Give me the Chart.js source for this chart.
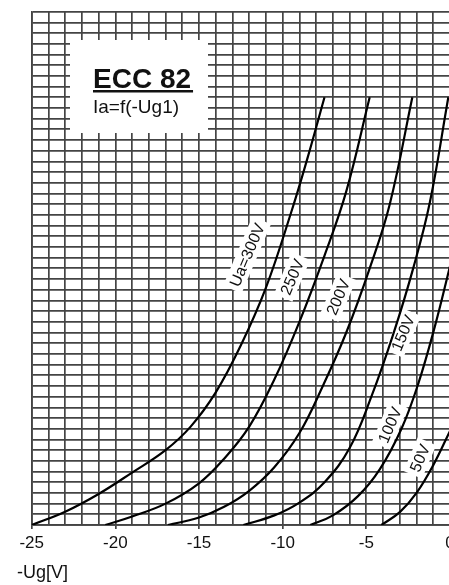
<!DOCTYPE html>
<html>
<head>
<meta charset="utf-8">
<script src="https://cdn.jsdelivr.net/npm/chart.js@4.4.0/dist/chart.umd.min.js"></script>
<style>
  html, body { margin: 0; padding: 0; background: #fff; }
  #wrap { position: relative; width: 449px; height: 585px; overflow: hidden; }
  canvas { display: block; }
</style>
</head>
<body>
<div id="wrap"><canvas id="c" width="470" height="585"></canvas></div>
<script>
// -Ug1 [V] / Ia [mA], one pair of arrays per anode voltage
const UG_300 = [-25, -23, -21, -19, -17, -15.5, -14, -12.5, -11, -9.5, -8.5, -7.5];
const IA_300 = [0, 0.62, 1.45, 2.45, 3.5, 4.6, 6.2, 8.4, 11.1, 14.6, 17.2, 20];
const UG_250 = [-20.6, -19, -17, -15, -13.5, -12, -10.5, -9, -7.5, -6.2, -4.8];
const IA_250 = [0, 0.4, 1.0, 1.95, 3.1, 4.6, 6.8, 9.5, 12.6, 15.6, 20];
const UG_200 = [-16.85, -15, -13.5, -12, -10.5, -9, -7.6, -6.2, -4.8, -3.6, -2.25];
const IA_200 = [0, 0.35, 0.85, 1.6, 2.7, 4.3, 6.5, 9.0, 12.0, 15.0, 20];
const UG_150 = [-12.35, -10.5, -9, -7.5, -6, -4.7, -3.4, -2.2, -1.2, -0.1];
const IA_150 = [0, 0.45, 1.05, 2.0, 3.6, 6.0, 8.9, 12.0, 15.1, 20];
const UG_100 = [-8.35, -7, -5.5, -4.2, -2.9, -1.9, -0.9, 0];
const IA_100 = [0, 0.45, 1.35, 2.6, 4.5, 6.6, 9.3, 12.1];
const UG_50  = [-4.1, -3, -2, -1, 0];
const IA_50  = [0, 0.6, 1.5, 2.8, 4.4];

const X_TICKS = [-25, -20, -15, -10, -5, 0];
const CURVE_LABELS = ['Ua=300V', '250V', '200V', '150V', '100V', '50V'];
// label anchors in data units (Ug, Ia)
const LABEL_UG = [-12.13, -9.44, -6.69, -2.81, -3.59, -1.80];
const LABEL_IA = [12.63, 11.6, 10.66, 8.98, 4.68, 3.13];

const GRID = '#444';
const FONT = "'Liberation Sans', Arial, sans-serif";
const LABEL_ANGLE = -67 * Math.PI / 180;

function pts(xs, ys) { return xs.map((x, i) => ({ x, y: ys[i] })); }

const series = [
  pts(UG_300, IA_300), pts(UG_250, IA_250), pts(UG_200, IA_200),
  pts(UG_150, IA_150), pts(UG_100, IA_100), pts(UG_50, IA_50),
];

// ── overlays: title box, curve labels, axis caption ─────────────────────────
const overlay = {
  id: 'overlay',
  beforeDatasetsDraw(chart) {
    const { ctx, scales: { x, y } } = chart;
    ctx.save();
    ctx.fillStyle = '#fff';
    ctx.fillRect(70, 40, 138, 93);
    // white knock-outs behind the curve labels
    ctx.font = `16px ${FONT}`;
    CURVE_LABELS.forEach((t, i) => {
      const w = ctx.measureText(t).width;
      ctx.save();
      ctx.translate(x.getPixelForValue(LABEL_UG[i]), y.getPixelForValue(LABEL_IA[i]));
      ctx.rotate(LABEL_ANGLE);
      ctx.fillRect(-w / 2 - 4, -10, w + 8, 20);
      ctx.restore();
    });
    ctx.restore();
  },
  afterDatasetsDraw(chart) {
    const { ctx, scales: { x, y } } = chart;
    ctx.save();
    ctx.fillStyle = '#111';
    ctx.textBaseline = 'alphabetic';
    ctx.textAlign = 'left';
    ctx.font = `bold 28px ${FONT}`;
    ctx.fillText('ECC 82', 93, 88);
    const tw = ctx.measureText('ECC 82').width;
    ctx.fillRect(93, 90, tw + 2, 2.5);
    ctx.font = `19px ${FONT}`;
    ctx.fillText('Ia=f(-Ug1)', 93, 113);

    ctx.font = `16px ${FONT}`;
    ctx.textAlign = 'center';
    ctx.textBaseline = 'middle';
    CURVE_LABELS.forEach((t, i) => {
      ctx.save();
      ctx.translate(x.getPixelForValue(LABEL_UG[i]), y.getPixelForValue(LABEL_IA[i]));
      ctx.rotate(LABEL_ANGLE);
      ctx.fillText(t, 0, 1);
      ctx.restore();
    });

    ctx.textAlign = 'left';
    ctx.font = `18px ${FONT}`;
    ctx.fillText('-Ug[V]', 17, 573);
    ctx.restore();
  },
};

new Chart(document.getElementById('c'), {
  type: 'scatter',
  data: {
    datasets: series.map((d, i) => ({
      label: CURVE_LABELS[i],
      data: d,
      showLine: true,
      borderColor: '#000',
      borderWidth: 2.2,
      pointRadius: 0,
      tension: 0.4,
    })),
  },
  options: {
    responsive: false,
    animation: false,
    devicePixelRatio: 1,
    layout: { padding: { left: 31.7, top: 11.7, right: 20, bottom: 0 } },
    plugins: { legend: { display: false }, tooltip: { enabled: false } },
    scales: {
      x: {
        type: 'linear',
        min: -25, max: 0,
        afterFit: s => { s.height = 60; },
        afterBuildTicks: s => {
          const out = [];
          for (let v = -25; v <= 0; v++) out.push({ value: v });
          s.ticks = out;
        },
        grid: {
          color: GRID, lineWidth: 1.7,
          drawTicks: true, tickLength: 4,
          tickColor: c => (X_TICKS.includes(c.tick?.value) ? GRID : 'rgba(0,0,0,0)'),
        },
        border: { display: true, color: GRID, width: 1.7 },
        ticks: {
          autoSkip: false, maxRotation: 0, padding: 4,
          color: '#111', font: { family: FONT, size: 17 },
          callback: v => (X_TICKS.includes(v) ? String(v) : ''),
        },
      },
      y: {
        type: 'linear',
        min: 0, max: 24,
        afterFit: s => { s.width = 0; },
        ticks: { display: false, stepSize: 0.5 },
        grid: { color: GRID, lineWidth: 1.7, drawTicks: false },
        border: { display: true, color: GRID, width: 1.7 },
      },
    },
  },
  plugins: [overlay],
});
</script>
</body>
</html>
